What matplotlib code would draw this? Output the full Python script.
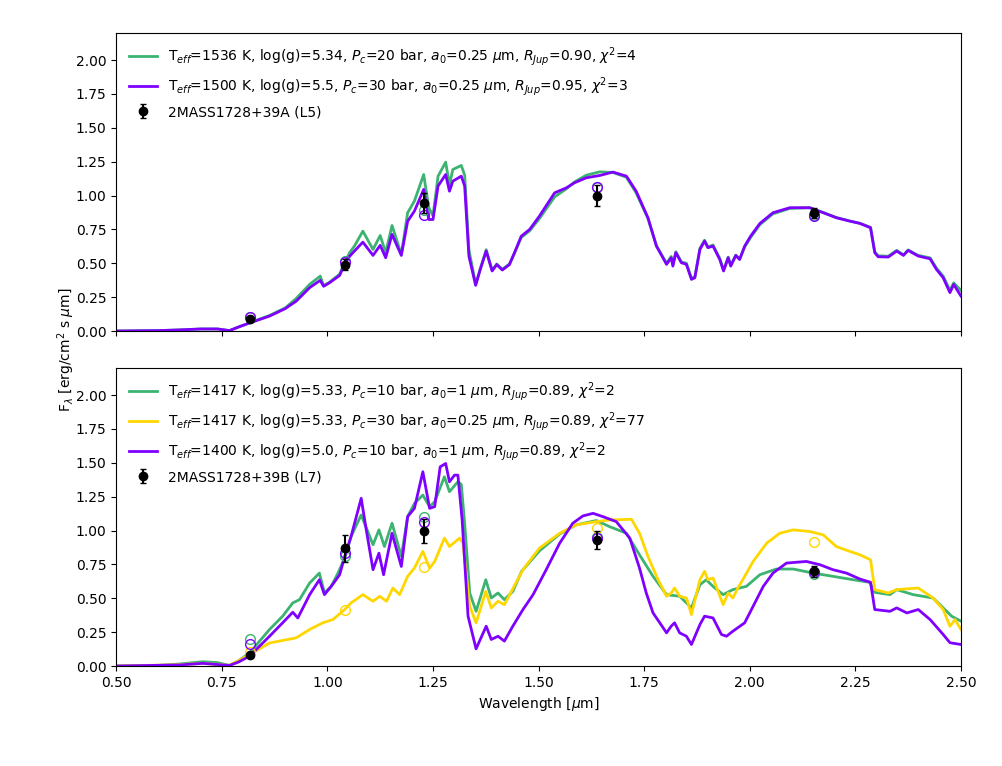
import matplotlib
matplotlib.use("Agg")
import matplotlib.pyplot as plt
import numpy as np

# ---- top panel: 2MASS1728+39A ----
wl_a = [0.50, 0.60, 0.65, 0.70, 0.74, 0.768, 0.79, 0.816, 0.863, 0.90,
        0.926, 0.958, 0.983, 0.991, 1.005, 1.029, 1.04, 1.053, 1.064, 1.084,
        1.108, 1.125, 1.138, 1.153, 1.175, 1.19, 1.206, 1.228, 1.24, 1.25,
        1.262, 1.28, 1.289, 1.297, 1.317, 1.325, 1.335, 1.351, 1.362, 1.376,
        1.39, 1.401, 1.414, 1.431, 1.443, 1.459, 1.479, 1.502, 1.538, 1.566,
        1.585, 1.613, 1.645, 1.676, 1.708, 1.731, 1.759, 1.779, 1.803, 1.814,
        1.818, 1.825, 1.838, 1.85, 1.862, 1.87, 1.882, 1.893, 1.901, 1.913,
        1.929, 1.938, 1.949, 1.955, 1.967, 1.976, 1.988, 2.002, 2.024, 2.055,
        2.095, 2.142, 2.174, 2.205, 2.237, 2.261, 2.286, 2.296, 2.304, 2.328,
        2.348, 2.364, 2.375, 2.399, 2.427, 2.442, 2.458, 2.474, 2.483, 2.50]

flux_a_1500 = [0.0, 0.003, 0.008, 0.015, 0.015, 0.003, 0.03, 0.06, 0.11, 0.165,
               0.22, 0.32, 0.374, 0.33, 0.356, 0.41, 0.49, 0.553, 0.59, 0.656,
               0.558, 0.632, 0.541, 0.713, 0.558, 0.81, 0.885, 1.045, 0.823, 0.823,
               1.07, 1.155, 1.032, 1.106, 1.143, 1.07, 0.553, 0.337, 0.455, 0.59,
               0.443, 0.49, 0.45, 0.49, 0.578, 0.70, 0.75, 0.848, 1.02, 1.057,
               1.094, 1.131, 1.148, 1.173, 1.143, 1.032, 0.836, 0.627, 0.492, 0.541,
               0.479, 0.578, 0.504, 0.492, 0.381, 0.393, 0.602, 0.664, 0.615, 0.627,
               0.528, 0.443, 0.541, 0.479, 0.558, 0.528, 0.627, 0.70, 0.794, 0.873,
               0.91, 0.91, 0.873, 0.836, 0.811, 0.794, 0.762, 0.578, 0.548, 0.546,
               0.59, 0.558, 0.595, 0.553, 0.533, 0.455, 0.393, 0.283, 0.344, 0.258]

flux_a_1536 = [0.0, 0.003, 0.008, 0.015, 0.015, 0.003, 0.03, 0.06, 0.115, 0.17,
               0.24, 0.344, 0.405, 0.335, 0.36, 0.42, 0.50, 0.58, 0.627, 0.737,
               0.602, 0.705, 0.578, 0.779, 0.565, 0.873, 0.959, 1.155, 0.91, 0.85,
               1.143, 1.246, 1.08, 1.192, 1.222, 1.15, 0.60, 0.345, 0.46, 0.60,
               0.45, 0.495, 0.455, 0.495, 0.575, 0.69, 0.74, 0.83, 0.99, 1.05,
               1.10, 1.15, 1.175, 1.17, 1.135, 1.02, 0.83, 0.63, 0.50, 0.55,
               0.49, 0.585, 0.51, 0.50, 0.39, 0.40, 0.61, 0.67, 0.62, 0.635,
               0.535, 0.45, 0.545, 0.485, 0.56, 0.53, 0.62, 0.69, 0.785, 0.865,
               0.905, 0.91, 0.875, 0.838, 0.812, 0.795, 0.765, 0.585, 0.555, 0.552,
               0.595, 0.562, 0.598, 0.558, 0.54, 0.465, 0.405, 0.30, 0.355, 0.30]

# ---- bottom panel: 2MASS1728+39B ----
wl_b_1417 = [0.50, 0.60, 0.65, 0.705, 0.74, 0.768, 0.79, 0.816, 0.863, 0.894,
             0.918, 0.934, 0.958, 0.981, 0.993, 1.009, 1.025, 1.041, 1.056, 1.08,
             1.108, 1.122, 1.135, 1.153, 1.175, 1.19, 1.206, 1.226, 1.242, 1.254,
             1.277, 1.289, 1.309, 1.317, 1.325, 1.337, 1.352, 1.375, 1.388, 1.404,
             1.419, 1.439, 1.46, 1.502, 1.55, 1.589, 1.637, 1.668, 1.708, 1.739,
             1.771, 1.803, 1.834, 1.862, 1.882, 1.897, 1.913, 1.937, 1.96, 1.992,
             2.024, 2.063, 2.103, 2.15, 2.197, 2.245, 2.284, 2.296, 2.332, 2.348,
             2.387, 2.434, 2.458, 2.478, 2.50]
flux_b_1417 = [0.0, 0.005, 0.015, 0.032, 0.025, 0.005, 0.04, 0.098, 0.27, 0.368,
               0.466, 0.49, 0.613, 0.686, 0.539, 0.588, 0.686, 0.797, 0.956, 1.115,
               0.895, 1.005, 0.882, 1.054, 0.809, 1.103, 1.20, 1.262, 1.176, 1.213,
               1.397, 1.287, 1.36, 1.34, 1.05, 0.539, 0.404, 0.637, 0.502, 0.539,
               0.49, 0.551, 0.70, 0.85, 0.975, 1.042, 1.074, 1.029, 0.98, 0.821,
               0.662, 0.527, 0.515, 0.429, 0.60, 0.637, 0.588, 0.527, 0.564, 0.588,
               0.674, 0.716, 0.716, 0.686, 0.662, 0.637, 0.618, 0.544, 0.527, 0.564,
               0.527, 0.502, 0.429, 0.368, 0.331]

wl_b_1417s = [0.50, 0.65, 0.705, 0.768, 0.79, 0.816, 0.863, 0.926, 0.958, 0.989,
              1.013, 1.041, 1.056, 1.084, 1.108, 1.124, 1.14, 1.155, 1.171, 1.19,
              1.206, 1.226, 1.242, 1.254, 1.277, 1.289, 1.313, 1.321, 1.337, 1.352,
              1.375, 1.388, 1.404, 1.419, 1.463, 1.502, 1.55, 1.589, 1.637, 1.668,
              1.72, 1.739, 1.759, 1.783, 1.803, 1.814, 1.822, 1.834, 1.85, 1.862,
              1.882, 1.893, 1.901, 1.913, 1.937, 1.949, 1.96, 1.972, 1.988, 2.008,
              2.04, 2.071, 2.103, 2.142, 2.174, 2.205, 2.237, 2.261, 2.286, 2.296,
              2.328, 2.348, 2.399, 2.434, 2.458, 2.474, 2.486, 2.50]
flux_b_1417s = [0.0, 0.01, 0.02, 0.005, 0.04, 0.086, 0.17, 0.208, 0.27, 0.319,
                0.343, 0.417, 0.466, 0.527, 0.478, 0.515, 0.478, 0.576, 0.527, 0.662,
                0.723, 0.846, 0.723, 0.772, 0.944, 0.882, 0.944, 0.907, 0.441, 0.319,
                0.551, 0.429, 0.478, 0.453, 0.711, 0.87, 0.98, 1.042, 1.066, 1.078,
                1.083, 0.98, 0.809, 0.637, 0.515, 0.539, 0.576, 0.515, 0.502, 0.38,
                0.637, 0.699, 0.637, 0.65, 0.453, 0.539, 0.502, 0.576, 0.662, 0.772,
                0.907, 0.98, 1.005, 0.993, 0.968, 0.882, 0.846, 0.821, 0.784, 0.564,
                0.539, 0.564, 0.576, 0.502, 0.417, 0.294, 0.343, 0.27]

wl_b_1400 = [0.50, 0.65, 0.705, 0.768, 0.79, 0.816, 0.863, 0.894, 0.918, 0.93,
             0.958, 0.981, 0.993, 1.009, 1.029, 1.041, 1.056, 1.08, 1.092, 1.108,
             1.122, 1.133, 1.153, 1.175, 1.19, 1.206, 1.226, 1.242, 1.254, 1.267,
             1.28, 1.289, 1.301, 1.309, 1.319, 1.333, 1.352, 1.376, 1.388, 1.404,
             1.419, 1.439, 1.463, 1.487, 1.518, 1.55, 1.581, 1.605, 1.629, 1.652,
             1.684, 1.716, 1.739, 1.755, 1.771, 1.787, 1.803, 1.814, 1.822, 1.834,
             1.85, 1.862, 1.882, 1.893, 1.913, 1.933, 1.945, 1.96, 1.988, 2.008,
             2.032, 2.055, 2.087, 2.134, 2.166, 2.197, 2.229, 2.261, 2.286, 2.296,
             2.332, 2.348, 2.372, 2.399, 2.427, 2.458, 2.474, 2.50]
flux_b_1400 = [0.0, 0.008, 0.02, 0.004, 0.03, 0.074, 0.22, 0.319, 0.397, 0.355,
               0.527, 0.637, 0.527, 0.588, 0.674, 0.809, 0.956, 1.238, 1.005, 0.711,
               0.833, 0.674, 0.98, 0.735, 1.103, 1.164, 1.434, 1.164, 1.176, 1.47,
               1.495, 1.36, 1.409, 1.409, 1.078, 0.368, 0.127, 0.294, 0.196, 0.22,
               0.184, 0.294, 0.417, 0.527, 0.711, 0.907, 1.054, 1.108, 1.127, 1.103,
               1.066, 0.944, 0.723, 0.539, 0.392, 0.319, 0.245, 0.294, 0.319, 0.245,
               0.22, 0.159, 0.306, 0.368, 0.355, 0.233, 0.22, 0.257, 0.319, 0.441,
               0.588, 0.686, 0.76, 0.772, 0.748, 0.711, 0.686, 0.642, 0.618, 0.417,
               0.404, 0.429, 0.392, 0.417, 0.343, 0.233, 0.172, 0.159]

# ---- photometry ----
band_wl = [0.817, 1.042, 1.229, 1.638, 2.152]
obs_a = [0.09, 0.49, 0.946, 1.0, 0.873]
err_a = [0.01, 0.04, 0.076, 0.077, 0.037]
synth_a_1536 = [0.106, 0.52, 0.89, 1.06, 0.855]
synth_a_1500 = [0.106, 0.51, 0.855, 1.064, 0.848]

obs_b = [0.078, 0.87, 0.998, 0.931, 0.699]
err_b = [0.01, 0.10, 0.087, 0.065, 0.04]
synth_b_1417 = [0.203, 0.81, 1.098, 0.956, 0.681]
synth_b_1417s = [0.10, 0.412, 0.733, 1.022, 0.912]
synth_b_1400 = [0.159, 0.833, 1.061, 0.944, 0.691]

green = "mediumseagreen"
purple = "#7f00ff"
yellow = "gold"

fig, (ax1, ax2) = plt.subplots(2, 1, figsize=(10.02, 7.66), dpi=100, sharex=True)
fig.subplots_adjust(left=0.116, right=0.959, top=0.957, bottom=0.1305, hspace=0.124)

# top panel
ax1.plot(wl_a, flux_a_1536, color=green, lw=2,
         label=r"T$_{eff}$=1536 K, log(g)=5.34, $P_c$=20 bar, $a_0$=0.25 $\mu$m, $R_{Jup}$=0.90, $\chi^2$=4")
ax1.plot(wl_a, flux_a_1500, color=purple, lw=2,
         label=r"T$_{eff}$=1500 K, log(g)=5.5, $P_c$=30 bar, $a_0$=0.25 $\mu$m, $R_{Jup}$=0.95, $\chi^2$=3")
ax1.plot(band_wl, synth_a_1536, "o", mfc="none", mec=green, ms=7)
ax1.plot(band_wl, synth_a_1500, "o", mfc="none", mec=purple, ms=7)
ax1.errorbar(band_wl, obs_a, yerr=err_a, fmt="o", color="k", ms=6, capsize=2,
             elinewidth=1.5, label="2MASS1728+39A (L5)")

# bottom panel
ax2.plot(wl_b_1417, flux_b_1417, color=green, lw=2,
         label=r"T$_{eff}$=1417 K, log(g)=5.33, $P_c$=10 bar, $a_0$=1 $\mu$m, $R_{Jup}$=0.89, $\chi^2$=2")
ax2.plot(wl_b_1417s, flux_b_1417s, color=yellow, lw=2,
         label=r"T$_{eff}$=1417 K, log(g)=5.33, $P_c$=30 bar, $a_0$=0.25 $\mu$m, $R_{Jup}$=0.89, $\chi^2$=77")
ax2.plot(wl_b_1400, flux_b_1400, color=purple, lw=2,
         label=r"T$_{eff}$=1400 K, log(g)=5.0, $P_c$=10 bar, $a_0$=1 $\mu$m, $R_{Jup}$=0.89, $\chi^2$=2")
ax2.plot(band_wl, synth_b_1417, "o", mfc="none", mec=green, ms=7)
ax2.plot(band_wl, synth_b_1417s, "o", mfc="none", mec=yellow, ms=7)
ax2.plot(band_wl, synth_b_1400, "o", mfc="none", mec=purple, ms=7)
ax2.errorbar(band_wl, obs_b, yerr=err_b, fmt="o", color="k", ms=6, capsize=2,
             elinewidth=1.5, label="2MASS1728+39B (L7)")

for ax in (ax1, ax2):
    ax.set_xlim(0.5, 2.5)
    ax.set_ylim(0, 2.2)
    ax.set_yticks(np.arange(0, 2.01, 0.25))
    ax.legend(loc="upper left", frameon=False, fontsize=10)

ax2.set_xlabel(r"Wavelength [$\mu$m]")
fig.text(0.066, 0.543, r"F$_\lambda$ [erg/cm$^2$ s $\mu$m]", rotation=90,
         ha="center", va="center", fontsize=10)

fig.savefig("out.png", dpi=100)
